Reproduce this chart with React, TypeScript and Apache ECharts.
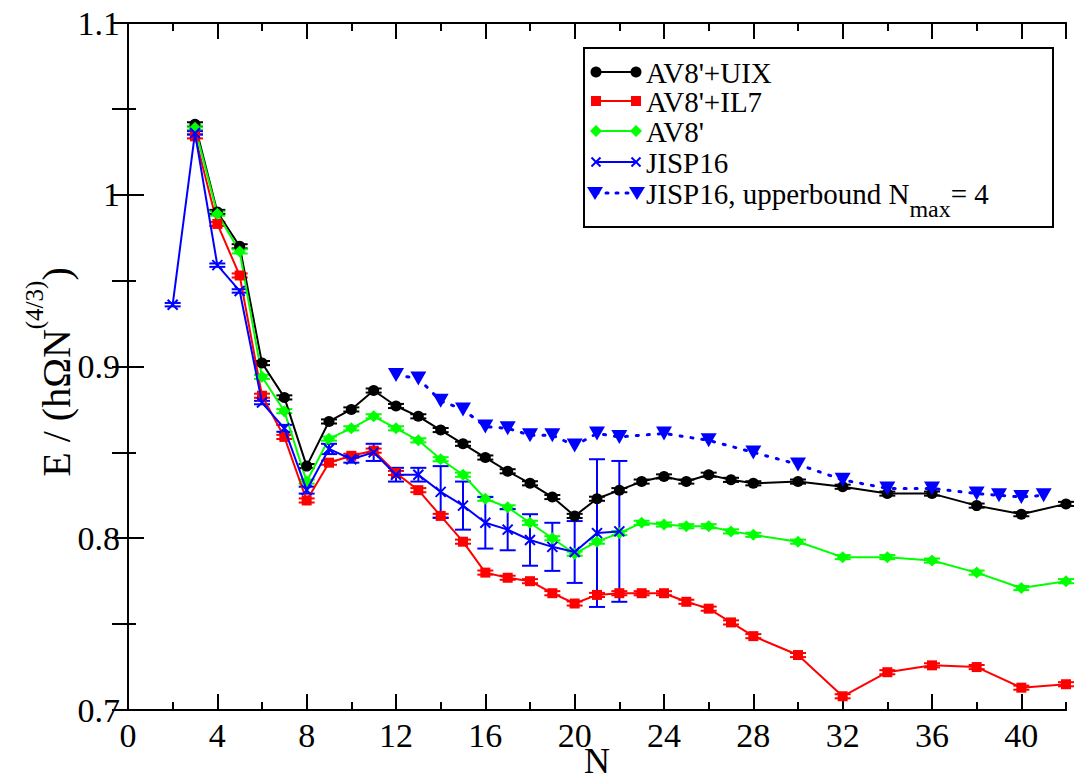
import React, { useEffect, useRef } from 'react';
import * as echarts from 'echarts';

// ---------- data ----------
const nAV = [3, 4, 5, 6, 7, 8, 9, 10, 11, 12, 13, 14, 15, 16, 17, 18, 19, 20, 21, 22, 23, 24, 25, 26, 27, 28, 30, 32, 34, 36, 38, 40, 42];
const uixVals = [1.041, 0.990, 0.970, 0.902, 0.882, 0.842, 0.868, 0.875, 0.886, 0.877, 0.871, 0.863, 0.855, 0.847, 0.839, 0.832, 0.824, 0.813, 0.823, 0.828, 0.833, 0.836, 0.833, 0.837, 0.834, 0.832, 0.833, 0.830, 0.826, 0.826, 0.819, 0.814, 0.820];
const il7Vals = [1.034, 0.983, 0.953, 0.883, 0.859, 0.822, 0.844, 0.848, 0.851, 0.838, 0.828, 0.813, 0.798, 0.780, 0.777, 0.775, 0.768, 0.762, 0.767, 0.768, 0.768, 0.768, 0.763, 0.759, 0.751, 0.743, 0.732, 0.708, 0.722, 0.726, 0.725, 0.713, 0.715];
const av8Vals = [1.039, 0.989, 0.967, 0.894, 0.874, 0.833, 0.858, 0.864, 0.871, 0.864, 0.857, 0.846, 0.837, 0.823, 0.818, 0.809, 0.800, 0.791, 0.798, 0.803, 0.809, 0.808, 0.807, 0.807, 0.804, 0.802, 0.798, 0.789, 0.789, 0.787, 0.780, 0.771, 0.775];
const avErr = 0.0012;

const nJ = [2, 3, 4, 5, 6, 7, 8, 9, 10, 11, 12, 13, 14, 15, 16, 17, 18, 19, 20, 21, 22];
const jispVals = [0.936, 1.036, 0.959, 0.944, 0.879, 0.864, 0.828, 0.852, 0.846, 0.850, 0.837, 0.837, 0.827, 0.819, 0.809, 0.805, 0.799, 0.795, 0.792, 0.803, 0.804];
const jispErr = [0.001, 0.001, 0.001, 0.001, 0.001, 0.002, 0.002, 0.003, 0.002, 0.005, 0.004, 0.004, 0.015, 0.014, 0.015, 0.012, 0.015, 0.014, 0.018, 0.043, 0.041];

const nUB = [12, 13, 14, 15, 16, 17, 18, 19, 20, 21, 22, 24, 26, 28, 30, 32, 34, 36, 38, 39, 40, 41];
const ubVals = [0.895, 0.893, 0.880, 0.875, 0.865, 0.864, 0.860, 0.860, 0.854, 0.861, 0.859, 0.861, 0.857, 0.850, 0.843, 0.834, 0.829, 0.829, 0.826, 0.825, 0.824, 0.825];

const legendNames = ["AV8'+UIX", "AV8'+IL7", "AV8'", 'JISP16'];
const ubLegend = ['JISP16, upperbound N', 'max', '= 4'];
const yTitle = ['E / (hΩN', '(4/3)', ')'];
const xTitle = 'N';

const FONT = 'Liberation Serif, DejaVu Serif, serif';
const BLACK = '#000000';
const RED = '#ff0000';
const GREEN = '#00ff00';
const BLUE = '#0000ff';
const X_PATH = 'path://M0,0L10,10M10,0L0,10';

function measure(t: string, size: number): number {
  const c = document.createElement('canvas').getContext('2d');
  if (!c) return t.length * size * 0.5;
  c.font = `${size}px ${FONT}`;
  return c.measureText(t).width;
}

function errRender(color: string, capHalf: number) {
  return (params: any, api: any) => {
    const x = api.value(0);
    const lo = api.value(1);
    const hi = api.value(2);
    const p1 = api.coord([x, lo]);
    const p2 = api.coord([x, hi]);
    const style = { stroke: color, lineWidth: 2 };
    return {
      type: 'group',
      children: [
        { type: 'line', shape: { x1: p1[0], y1: p1[1], x2: p2[0], y2: p2[1] }, style },
        { type: 'line', shape: { x1: p1[0] - capHalf, y1: p1[1], x2: p1[0] + capHalf, y2: p1[1] }, style },
        { type: 'line', shape: { x1: p2[0] - capHalf, y1: p2[1], x2: p2[0] + capHalf, y2: p2[1] }, style },
      ],
    };
  };
}

function errData(ns: number[], vals: number[], errs: number[] | number) {
  return ns.map((n, i) => {
    const e = Array.isArray(errs) ? errs[i] : errs;
    return [n, vals[i] - e, vals[i] + e];
  });
}

function legendMarker(kind: string, cx: number, cy: number, color: string): any[] {
  const z = 12;
  if (kind === 'circle') return [{ type: 'circle', z, shape: { cx, cy, r: 5.5 }, style: { fill: color } }];
  if (kind === 'rect') return [{ type: 'rect', z, shape: { x: cx - 5, y: cy - 5, width: 10, height: 10 }, style: { fill: color } }];
  if (kind === 'diamond')
    return [{ type: 'polygon', z, shape: { points: [[cx, cy - 6], [cx + 6, cy], [cx, cy + 6], [cx - 6, cy]] }, style: { fill: color } }];
  if (kind === 'x')
    return [
      { type: 'line', z, shape: { x1: cx - 4.5, y1: cy - 4.5, x2: cx + 4.5, y2: cy + 4.5 }, style: { stroke: color, lineWidth: 2 } },
      { type: 'line', z, shape: { x1: cx - 4.5, y1: cy + 4.5, x2: cx + 4.5, y2: cy - 4.5 }, style: { stroke: color, lineWidth: 2 } },
    ];
  return [{ type: 'polygon', z, shape: { points: [[cx - 8, cy - 6], [cx + 8, cy - 6], [cx, cy + 7]] }, style: { fill: color } }];
}

function txt(text: string, x: number, y: number, size: number): any {
  return {
    type: 'text', x, y, z: 12,
    style: {
      text, fontSize: size, fontFamily: FONT, fill: '#000',
      textVerticalAlign: 'middle', verticalAlign: 'middle',
    },
  };
}

function buildGraphic() {
  const lx1 = 596;
  const lx2 = 636;
  const tx = 646;
  const rows = [72, 101, 131, 162, 193];
  const kinds = ['circle', 'rect', 'diamond', 'x'];
  const colors = [BLACK, RED, GREEN, BLUE];
  const LFS = 29;
  const els: any[] = [];
  els.push({ type: 'rect', shape: { x: 584, y: 48, width: 469, height: 179 }, style: { fill: '#fff', stroke: '#000', lineWidth: 2 }, z: 10 });
  kinds.forEach((k, i) => {
    const y = rows[i];
    els.push({ type: 'line', shape: { x1: lx1, y1: y, x2: lx2, y2: y }, style: { stroke: colors[i], lineWidth: 2 }, z: 11 });
    els.push(...legendMarker(k, lx1, y, colors[i]));
    els.push(...legendMarker(k, lx2, y, colors[i]));
    els.push(txt(legendNames[i], tx, y + 1, LFS));
  });
  const y5 = rows[4];
  els.push({ type: 'line', shape: { x1: lx1, y1: y5, x2: lx2, y2: y5 }, style: { stroke: BLUE, lineWidth: 3, lineDash: [2, 8], lineCap: 'round' }, z: 11 });
  els.push(...legendMarker('tri', lx1 - 1, y5, BLUE));
  els.push(...legendMarker('tri', lx2 + 1, y5, BLUE));
  const w1 = measure(ubLegend[0], LFS);
  const w2 = measure(ubLegend[1], 24);
  els.push(txt(ubLegend[0], tx, y5 + 1, LFS));
  els.push(txt(ubLegend[1], tx + w1, y5 + 16, 24));
  els.push(txt(ubLegend[2], tx + w1 + w2, y5 + 1, LFS));

  // y-axis title (rotated)
  const TFS = 40;
  const SFS = 25;
  const a = measure(yTitle[0], TFS);
  const b = measure(yTitle[1], SFS);
  const c = measure(yTitle[2], TFS);
  const total = a + b + c;
  const x0 = -total / 2;
  els.push({
    type: 'group', x: 56, y: 372, rotation: Math.PI / 2,
    children: [
      txt(yTitle[0], x0, 0, TFS),
      txt(yTitle[1], x0 + a, -22, SFS),
      txt(yTitle[2], x0 + a + b, 0, TFS),
    ],
  });
  return els;
}

export default function App() {
  const ref = useRef<HTMLDivElement>(null);
  useEffect(() => {
    if (!ref.current) return;
    const chart = echarts.init(ref.current, undefined, { renderer: 'svg' });
    const axisLine = { show: true, lineStyle: { color: '#000', width: 2 } };
    const xBase = { type: 'value', min: 0, max: 42, splitLine: { show: false }, axisLine };
    const yBase = { type: 'value', min: 0.7, max: 1.1, splitLine: { show: false }, axisLine };
    const tick = (len: number) => ({ show: true, inside: true, length: len, lineStyle: { color: '#000', width: 2 } });
    const noLabel = { show: false };

    const option: any = {
      animation: false,
      backgroundColor: '#ffffff',
      textStyle: { fontFamily: FONT },
      grid: { left: 128, right: 10, top: 23, bottom: 73, outerBoundsMode: 'none', containLabel: false },
      xAxis: [
        {
          ...xBase, position: 'bottom', interval: 4, axisTick: tick(16),
          axisLabel: { show: true, fontSize: 34, fontFamily: FONT, color: '#000', margin: 8, showMaxLabel: false },
          name: xTitle, nameLocation: 'middle', nameGap: 37, nameMoveOverlap: false,
          nameTextStyle: { fontSize: 36, fontFamily: FONT, color: '#000', lineHeight: 28 },
        },
        { ...xBase, position: 'bottom', interval: 2, axisTick: tick(8), axisLabel: noLabel },
        { ...xBase, position: 'top', interval: 4, axisTick: tick(16), axisLabel: noLabel },
        { ...xBase, position: 'top', interval: 2, axisTick: tick(8), axisLabel: noLabel },
      ],
      yAxis: [
        {
          ...yBase, position: 'left', interval: 0.1, axisTick: tick(16),
          axisLabel: {
            show: true, fontSize: 34, fontFamily: FONT, color: '#000', margin: 8,
            formatter: (v: number) => (Math.abs(v - 1) < 1e-9 ? '1' : v.toFixed(1)),
          },
        },
        { ...yBase, position: 'left', interval: 0.05, axisTick: tick(8), axisLabel: noLabel },
        { ...yBase, position: 'right', interval: 0.05, axisTick: tick(16), axisLabel: noLabel },
      ],
      series: [
        { type: 'custom', renderItem: errRender(BLACK, 8), data: errData(nAV, uixVals, avErr), encode: { x: 0, y: [1, 2] }, z: 3, silent: true },
        { type: 'custom', renderItem: errRender(RED, 8), data: errData(nAV, il7Vals, avErr), encode: { x: 0, y: [1, 2] }, z: 3, silent: true },
        { type: 'custom', renderItem: errRender(GREEN, 8), data: errData(nAV, av8Vals, avErr), encode: { x: 0, y: [1, 2] }, z: 3, silent: true },
        { type: 'custom', renderItem: errRender(BLUE, 8), data: errData(nJ, jispVals, jispErr), encode: { x: 0, y: [1, 2] }, z: 4, silent: true },
        {
          name: legendNames[0], type: 'line', data: nAV.map((n, i) => [n, uixVals[i]]),
          symbol: 'circle', symbolSize: 11, showAllSymbol: true,
          lineStyle: { color: BLACK, width: 2 }, itemStyle: { color: BLACK }, z: 5,
        },
        {
          name: legendNames[1], type: 'line', data: nAV.map((n, i) => [n, il7Vals[i]]),
          symbol: 'rect', symbolSize: 10, showAllSymbol: true,
          lineStyle: { color: RED, width: 2 }, itemStyle: { color: RED }, z: 5,
        },
        {
          name: legendNames[2], type: 'line', data: nAV.map((n, i) => [n, av8Vals[i]]),
          symbol: 'diamond', symbolSize: 12, showAllSymbol: true,
          lineStyle: { color: GREEN, width: 2 }, itemStyle: { color: GREEN }, z: 5,
        },
        {
          name: legendNames[3], type: 'line', data: nJ.map((n, i) => [n, jispVals[i]]),
          symbol: X_PATH, symbolSize: 10, showAllSymbol: true,
          lineStyle: { color: BLUE, width: 2 }, itemStyle: { color: BLUE, borderColor: BLUE, borderWidth: 2 }, z: 6,
        },
        {
          name: 'JISP16, upperbound', type: 'line', data: nUB.map((n, i) => [n, ubVals[i]]),
          symbol: 'triangle', symbolRotate: 180, symbolSize: [16, 14], showAllSymbol: true,
          lineStyle: { color: BLUE, width: 3, type: [2, 9], cap: 'round' }, itemStyle: { color: BLUE }, z: 6,
        },
      ],
      graphic: buildGraphic(),
    };
    chart.setOption(option);
    return () => chart.dispose();
  }, []);
  return <div ref={ref} style={{ position: 'absolute', left: 0, top: 0, width: 1076, height: 783 }} />;
}
